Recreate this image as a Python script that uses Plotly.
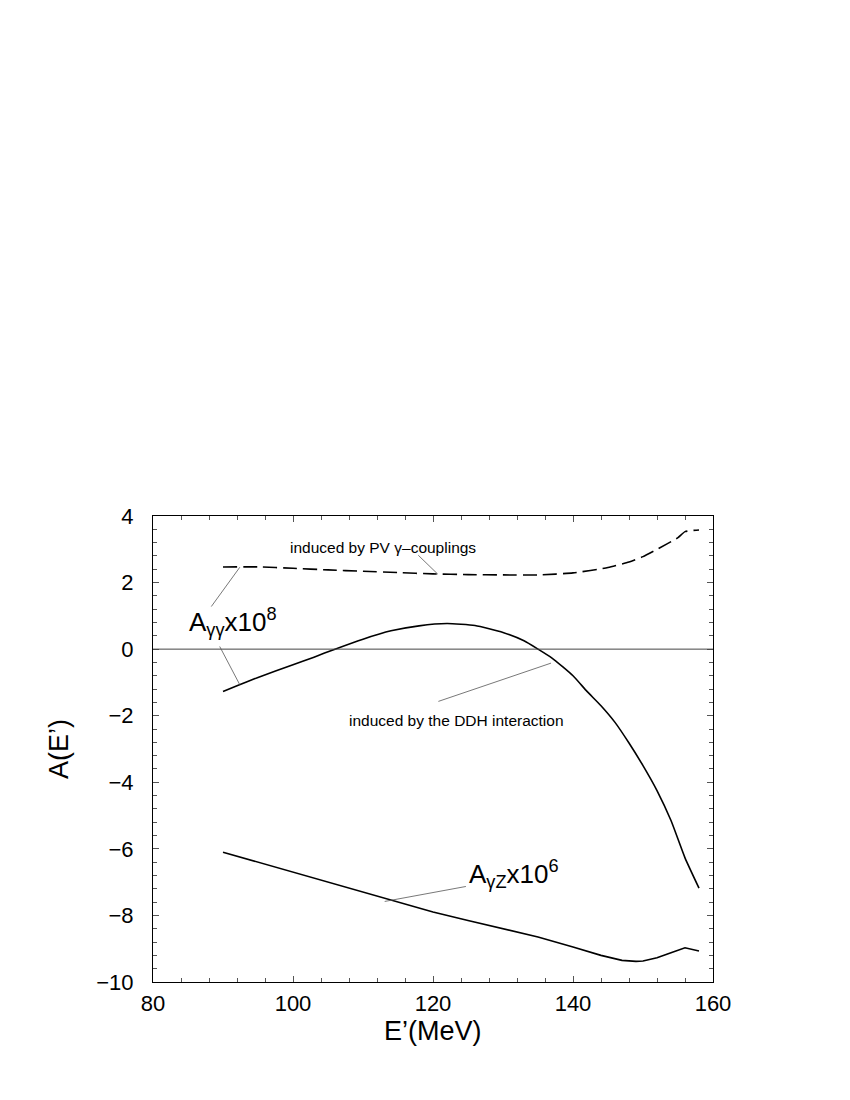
import plotly.graph_objects as go

# ---- data ----
pv_x = [90, 95, 100, 105, 110, 115, 120, 125, 130, 135, 140, 145, 148, 150, 152, 155, 156, 158]
pv_y = [2.47, 2.47, 2.43, 2.38, 2.34, 2.30, 2.26, 2.24, 2.23, 2.23, 2.29, 2.45, 2.62, 2.78, 3.0, 3.35, 3.53, 3.58]

ddh_x = [90, 92, 95, 100, 103, 106, 110, 114, 118, 122, 126, 130, 133, 135, 137, 140, 142, 144, 146, 148, 150, 152, 154, 156, 158]
ddh_y = [-1.27, -1.1, -0.85, -0.47, -0.24, 0.0, 0.3, 0.55, 0.7, 0.77, 0.71, 0.5, 0.25, 0.0, -0.27, -0.8, -1.27, -1.7, -2.2, -2.82, -3.5, -4.25, -5.15, -6.27, -7.18]

gz_x = [90, 95, 100, 105, 110, 115, 120, 125, 130, 135, 140, 144, 147, 149, 150, 152, 154, 156, 158]
gz_y = [-6.1, -6.4, -6.7, -7.0, -7.3, -7.6, -7.9, -8.15, -8.4, -8.65, -8.95, -9.2, -9.35, -9.38, -9.37, -9.27, -9.12, -8.97, -9.07]

x_ticks = [80, 100, 120, 140, 160]
y_ticks = [-10, -8, -6, -4, -2, 0, 2, 4]

FONT = "Liberation Sans, Arial, sans-serif"

fig = go.Figure()

# zero line
fig.add_shape(type="line", xref="paper", yref="y", x0=0, x1=1, y0=0, y1=0,
              line=dict(color="#444", width=1))

fig.add_trace(go.Scatter(x=pv_x, y=pv_y, mode="lines",
                         line=dict(color="black", width=1.6, dash="14px,6px",
                                   shape="spline", smoothing=0.5),
                         showlegend=False))
fig.add_trace(go.Scatter(x=ddh_x, y=ddh_y, mode="lines",
                         line=dict(color="black", width=1.6, shape="spline", smoothing=0.5),
                         showlegend=False))
fig.add_trace(go.Scatter(x=gz_x, y=gz_y, mode="lines",
                         line=dict(color="black", width=1.6), showlegend=False))

# leader lines
leaders = [
    ((88.33, 1.28), (92.4, 2.46)),
    ((89.53, 0.08), (92.4, -1.07)),
    ((120.77, -1.57), (136.86, -0.42)),
    ((124.7, -7.13), (113.1, -7.58)),
    ((117.9, 2.82), (120.7, 2.25)),
]
for (xa, ya), (xb, yb) in leaders:
    fig.add_shape(type="line", xref="x", yref="y", x0=xa, y0=ya, x1=xb, y1=yb,
                  line=dict(color="#555", width=0.8))

annotations = [
    dict(x=112.9, y=3.06, text="induced by PV γ–couplings", size=15.5, xanchor="center"),
    dict(x=123.3, y=-2.13, text="induced by the DDH interaction", size=15.5, xanchor="center"),
    dict(x=84.9, y=0.82, text="A<sub>γγ</sub>x10<sup>8</sup>", size=26, xanchor="left"),
    dict(x=124.9, y=-6.75, text="A<sub>γZ</sub>x10<sup>6</sup>", size=26, xanchor="left"),
]
for a in annotations:
    fig.add_annotation(xref="x", yref="y", x=a["x"], y=a["y"], text=a["text"],
                       xanchor=a["xanchor"], yanchor="middle", showarrow=False,
                       font=dict(family=FONT, color="black", size=a["size"]))

# axis titles
fig.add_annotation(xref="paper", yref="paper", x=0.5, y=-0.105, text="E’(MeV)",
                   showarrow=False, xanchor="center", yanchor="middle",
                   font=dict(family=FONT, size=27, color="black"))
fig.add_annotation(xref="paper", yref="paper", x=-0.168, y=0.5, text="A(E’)",
                   textangle=-90, showarrow=False, xanchor="center", yanchor="middle",
                   font=dict(family=FONT, size=27, color="black"))

axis_common = dict(showgrid=False, zeroline=False, showline=True, linecolor="black",
                   linewidth=1.2, mirror="allticks", ticks="inside", ticklen=6,
                   tickcolor="#555", tickwidth=1,
                   tickfont=dict(family=FONT, size=22, color="black"))

fig.update_xaxes(range=[80, 160], tickvals=x_ticks, ticktext=[str(v) for v in x_ticks],
                 minor=dict(dtick=4, tick0=80, ticks="inside", ticklen=4, tickcolor="#555"),
                 ticklabelstandoff=1, **axis_common)
fig.update_yaxes(range=[-10, 4], tickvals=y_ticks,
                 ticktext=[("−" + str(-v)) if v < 0 else str(v) for v in y_ticks],
                 minor=dict(dtick=0.4, tick0=0, ticks="inside", ticklen=4, tickcolor="#555"),
                 ticklabelstandoff=14, **axis_common)

fig.update_layout(width=850, height=1100, paper_bgcolor="white", plot_bgcolor="white",
                  margin=dict(l=145, r=145, t=508, b=126, autoexpand=False),
                  font=dict(family=FONT, color="black"))

fig.write_html("out.html")
